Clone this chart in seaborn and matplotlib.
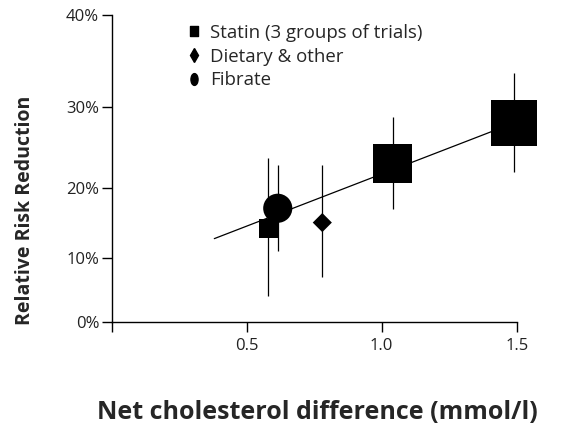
import numpy as np
import pandas as pd
import matplotlib
matplotlib.use("Agg")
import matplotlib.pyplot as plt
from matplotlib.lines import Line2D
from matplotlib.path import Path
import seaborn as sns

# ---- data ----
groups = ["Statin", "Statin", "Statin", "Dietary & other", "Fibrate"]
chol_diff = [0.58, 1.04, 1.49, 0.78, 0.615]           # mmol/l
rrr = [0.143, 0.232, 0.282, 0.152, 0.172]             # relative risk reduction
rrr_lo = [0.042, 0.171, 0.221, 0.071, 0.111]
rrr_hi = [0.238, 0.289, 0.339, 0.229, 0.229]
fit_x = [0.38, 1.50]
fit_y = [0.129, 0.283]
legend_labels = ["Statin (3 groups of trials)", "Dietary & other", "Fibrate"]
y_ticks = [0.0, 0.1, 0.2, 0.3, 0.4]
y_ticklabels = ["0%", "10%", "20%", "30%", "40%"]
x_ticks = [0.0, 0.5, 1.0, 1.5]
x_ticklabels = ["", "0.5", "1.0", "1.5"]

# ---- style ----
marker_area = [190, 790, 1100, 95, 440]   # pt^2, per point
marker_map = {"Statin": "s", "Dietary & other": "D", "Fibrate": "o"}

df = pd.DataFrame({"group": groups, "x": chol_diff, "y": rrr,
                   "lo": rrr_lo, "hi": rrr_hi, "area": marker_area})

sns.set_style("white")
plt.rcParams["font.family"] = ["Open Sans", "DejaVu Sans"]

fig = plt.figure(figsize=(5.7, 4.32), dpi=100)
ax = fig.add_axes([111.7 / 570, (432 - 321.5) / 432, 405 / 570, 306.5 / 432])
ax.set_xlim(0, 1.5)
ax.set_ylim(0, 0.4)


def fwd(r):
    r = np.clip(np.asarray(r, dtype=float), -5, 0.999)
    return -np.log(1 - r)


def inv(v):
    return 1 - np.exp(-np.asarray(v, dtype=float))


ax.set_yscale("function", functions=(fwd, inv))

ax.vlines(df["x"], df["lo"], df["hi"], color="black", lw=0.9, zorder=1)
sns.lineplot(x=fit_x, y=fit_y, color="black", lw=0.9, ax=ax, zorder=2)
sns.scatterplot(data=df, x="x", y="y", style="group", markers=marker_map,
                size="area", sizes=(min(marker_area), max(marker_area)),
                size_norm=(min(marker_area), max(marker_area)),
                color="black", linewidth=0, legend=False, ax=ax, zorder=3,
                clip_on=False)

ax.set_xlim(0, 1.5)
ax.set_ylim(0, 0.4)
ax.set_xticks(x_ticks)
ax.set_xticklabels(x_ticklabels)
ax.set_yticks(y_ticks)
ax.set_yticklabels(y_ticklabels)
ax.minorticks_off()
ax.tick_params(axis="both", direction="out", length=7, width=1, color="black",
               labelsize=12, labelcolor="#222222", bottom=True, left=True)
ax.tick_params(axis="x", pad=5)
ax.tick_params(axis="y", pad=2)
for s in ["top", "right"]:
    ax.spines[s].set_visible(False)
for s in ["left", "bottom"]:
    ax.spines[s].set_color("black")
    ax.spines[s].set_linewidth(1)

ax.set_xlabel("Net cholesterol difference (mmol/l)", fontsize=18,
              fontweight="bold")
ax.xaxis.set_label_coords(0.508, -0.255)
ax.set_ylabel("Relative Risk Reduction", fontsize=14, fontweight="bold")
ax.yaxis.set_label_coords(-0.189, 0.364)

rect = Path([(-0.38, -0.5), (0.38, -0.5), (0.38, 0.5), (-0.38, 0.5), (-0.38, -0.5)],
            closed=True)
ell = Path.unit_circle().transformed(matplotlib.transforms.Affine2D().scale(0.6, 1.0))
handles = [Line2D([], [], marker=rect, ls="", color="black", markersize=7.5),
           Line2D([], [], marker="d", ls="", color="black", markersize=7.5),
           Line2D([], [], marker=ell, ls="", color="black", markersize=8.5)]
fig.legend(handles, legend_labels, loc="upper left",
           bbox_to_anchor=(188 / 570, 1 - 24 / 432), frameon=False,
           fontsize=13.4, handlelength=0.6, handletextpad=0.6,
           labelspacing=0.3, borderaxespad=0, borderpad=0)

fig.savefig("out.png", dpi=100)
